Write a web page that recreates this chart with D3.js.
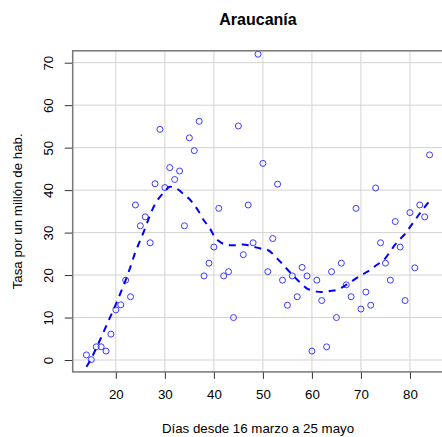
<!DOCTYPE html>
<html>
<head>
<meta charset="utf-8">
<script src="https://cdn.jsdelivr.net/npm/d3@7"></script>
<style>
  body { margin: 0; background: #fff; }
  text { font-family: "Liberation Sans", Arial, sans-serif; }
</style>
</head>
<body>
<svg width="442" height="437"></svg>
<script>
// observed daily rate, days 14..84
var days = d3.range(14, 85);
var rates = [1.2, 0.1, 3.1, 3.1, 2.1, 6.1, 11.8, 13.0, 18.8, 14.9,
  36.5, 31.6, 33.7, 27.6, 41.5, 54.3, 40.6, 45.3, 42.5, 44.5,
  31.6, 52.3, 49.3, 56.2, 19.8, 22.8, 26.6, 35.7, 19.8, 20.8,
  10.0, 55.1, 24.8, 36.5, 27.6, 72.0, 46.3, 20.8, 28.6, 41.4,
  18.8, 12.9, 19.8, 14.9, 21.8, 19.8, 2.1, 18.8, 14.0, 3.1,
  20.8, 10.0, 22.8, 17.7, 14.9, 35.7, 12.0, 16.0, 12.9, 40.5,
  27.6, 22.8, 18.8, 32.6, 26.6, 14.0, 34.7, 21.7, 36.5, 33.7, 48.3];
// smoothed trend (dashed curve), same days
var smooth = [-1.6, 0.4, 2.8, 5.3, 7.9, 10.5, 13.1, 15.9, 18.8, 22.0,
  25.5, 28.2, 31.1, 34.2, 36.7, 38.4, 39.7, 40.8, 40.6, 39.9,
  38.8, 37.9, 36.5, 34.8, 32.8, 31.4, 29.3, 28.0, 27.3, 27.0,
  27.0, 27.1, 27.2, 27.0, 26.7, 26.4, 26.1, 25.9, 25.0, 23.8,
  22.6, 21.3, 20.1, 18.9, 17.8, 16.8, 16.4, 16.1, 16.0, 16.1,
  16.3, 16.5, 17.0, 17.7, 18.4, 19.2, 19.9, 20.6, 21.3, 22.2,
  23.0, 24.0, 25.6, 27.2, 28.5, 29.7, 31.3, 32.9, 34.5, 36.0, 37.5];
var xTicks = [20, 30, 40, 50, 60, 70, 80];
var yTicks = [0, 10, 20, 30, 40, 50, 60, 70];

var svg = d3.select("svg");
var x = d3.scaleLinear().domain([11.2, 86.8]).range([72.7, 443.3]);
var y = d3.scaleLinear().domain([-2.8, 72.8]).range([371.9, 50.8]);

// grid
svg.append("g").selectAll("line").data(xTicks).enter().append("line")
    .attr("x1", function(d) { return x(d); }).attr("x2", function(d) { return x(d); })
    .attr("y1", y(-2.8)).attr("y2", y(72.8))
    .attr("stroke", "#d3d3d3").attr("stroke-width", 1);
svg.append("g").selectAll("line").data(yTicks).enter().append("line")
    .attr("y1", function(d) { return y(d); }).attr("y2", function(d) { return y(d); })
    .attr("x1", x(11.2)).attr("x2", x(86.8))
    .attr("stroke", "#d3d3d3").attr("stroke-width", 1);

// points
svg.append("g").selectAll("circle").data(days).enter().append("circle")
    .attr("cx", function(d) { return x(d); })
    .attr("cy", function(d, i) { return y(rates[i]); })
    .attr("r", 3)
    .attr("fill", "none")
    .attr("stroke", "#3a3aff")
    .attr("stroke-width", 1);

// smooth curve
var line = d3.line()
    .x(function(d) { return x(d); })
    .y(function(d, i) { return y(smooth[i]); })
    .curve(d3.curveMonotoneX);
svg.append("path").datum(days)
    .attr("d", line)
    .attr("fill", "none")
    .attr("stroke", "#0000ff")
    .attr("stroke-width", 2)
    .attr("stroke-dasharray", "7,6");

// axes
var xAxis = svg.append("g")
    .attr("transform", "translate(0," + y(-2.8) + ")")
    .call(d3.axisBottom(x).tickValues(xTicks).tickSize(7).tickPadding(11));
xAxis.select(".domain").remove();
xAxis.selectAll("line").attr("stroke", "#333");
xAxis.selectAll("text").attr("font-size", "13.3px").attr("fill", "#000")
    .attr("font-family", "Liberation Sans, Arial, sans-serif");

var yAxis = svg.append("g")
    .attr("transform", "translate(" + x(11.2) + ",0)")
    .call(d3.axisLeft(y).tickValues(yTicks).tickSize(8));
yAxis.select(".domain").remove();
yAxis.selectAll("line").attr("stroke", "#333");
yAxis.selectAll("text")
    .attr("font-size", "13.3px").attr("fill", "#000")
    .attr("font-family", "Liberation Sans, Arial, sans-serif")
    .attr("x", null).attr("dy", null)
    .attr("text-anchor", "middle")
    .attr("transform", "translate(-20,0) rotate(-90)");

// box
svg.append("rect")
    .attr("x", x(11.2)).attr("y", y(72.8))
    .attr("width", x(86.8) - x(11.2)).attr("height", y(-2.8) - y(72.8))
    .attr("fill", "none").attr("stroke", "#777").attr("stroke-width", 1.5);

// labels
svg.append("text").attr("x", 258).attr("y", 25)
    .attr("text-anchor", "middle").attr("font-size", "16px").attr("font-weight", "bold")
    .text("Araucanía");
svg.append("text").attr("x", 258).attr("y", 433)
    .attr("text-anchor", "middle").attr("font-size", "13.3px")
    .text("Días desde 16 marzo a 25 mayo");
svg.append("text")
    .attr("transform", "translate(22," + ((y(-2.8) + y(72.8)) / 2) + ") rotate(-90)")
    .attr("text-anchor", "middle").attr("font-size", "13.3px")
    .text("Tasa por un millón de hab.");
</script>
</body>
</html>
